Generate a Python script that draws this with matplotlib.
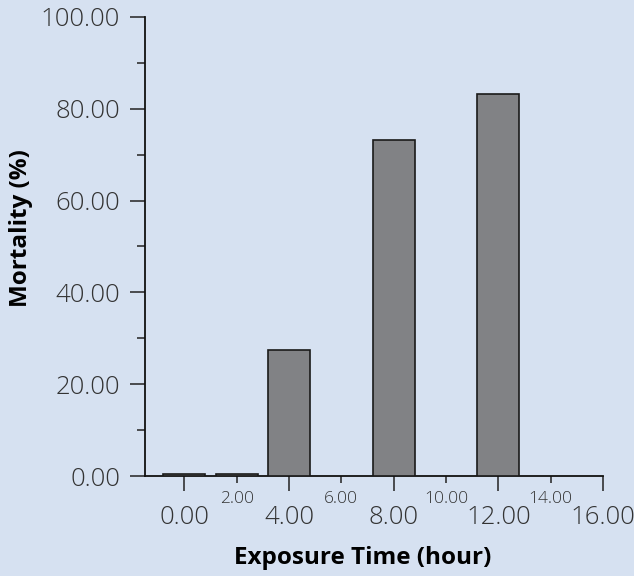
import matplotlib

matplotlib.use("Agg")
import matplotlib.pyplot as plt
from matplotlib.ticker import FixedLocator, FormatStrFormatter

# data
exposure_hours = [0, 2, 4, 8, 12]
mortality_pct = [0.4, 0.4, 27.5, 73.2, 83.3]

x_major = [0, 4, 8, 12, 16]
x_minor = [2, 6, 10, 14]
y_major = [0, 20, 40, 60, 80, 100]
y_minor = [10, 30, 50, 70, 90]

BG = "#d6e1f1"
BAR = "#818285"
TXT = "#333333"

plt.rcParams["font.family"] = ["Open Sans", "DejaVu Sans"]

fig = plt.figure(figsize=(6.34, 5.76), dpi=100, facecolor=BG)
ax = fig.add_axes([0.2287, 0.1736, 0.9511 - 0.2287, 0.9705 - 0.1736])
ax.set_facecolor(BG)

ax.bar(exposure_hours, mortality_pct, width=1.6, color=BAR,
       edgecolor="#1a1a1a", linewidth=1.2, zorder=3)

ax.set_xlim(-1.5, 16)
ax.set_ylim(0, 100)

for side in ["top", "right"]:
    ax.spines[side].set_visible(False)
for side in ["left", "bottom"]:
    ax.spines[side].set_color("#111111")
    ax.spines[side].set_linewidth(1.3)

ax.xaxis.set_major_locator(FixedLocator(x_major))
ax.xaxis.set_minor_locator(FixedLocator(x_minor))
ax.xaxis.set_major_formatter(FormatStrFormatter("%.2f"))
ax.xaxis.set_minor_formatter(FormatStrFormatter("%.2f"))
ax.yaxis.set_major_locator(FixedLocator(y_major))
ax.yaxis.set_minor_locator(FixedLocator(y_minor))
ax.yaxis.set_major_formatter(FormatStrFormatter("%.2f"))

ax.tick_params(axis="x", which="major", length=10.5, width=1.1, pad=10.5,
               labelsize=18.5, labelcolor=TXT, color="#222222")
ax.tick_params(axis="x", which="minor", length=5, width=1.1, pad=5.5,
               labelsize=12.5, labelcolor=TXT, color="#222222")
ax.tick_params(axis="y", which="major", length=11, width=1.1, pad=7,
               labelsize=18.5, labelcolor=TXT, color="#222222")
ax.tick_params(axis="y", which="minor", length=5.5, width=1.1,
               color="#222222")

for lab in ax.get_xticklabels() + ax.get_yticklabels() + ax.get_xticklabels(minor=True):
    lab.set_fontweight(300)

ax.set_xlabel("Exposure Time (hour)", fontsize=17.5, fontweight="bold",
              color="#000000")
ax.set_ylabel("Mortality (%)", fontsize=17.5, fontweight="bold",
              color="#000000")
ax.xaxis.set_label_coords(0.476, -0.152)
ax.yaxis.set_label_coords(-0.245, 0.54)

fig.savefig("out.png", dpi=100, facecolor=BG)
